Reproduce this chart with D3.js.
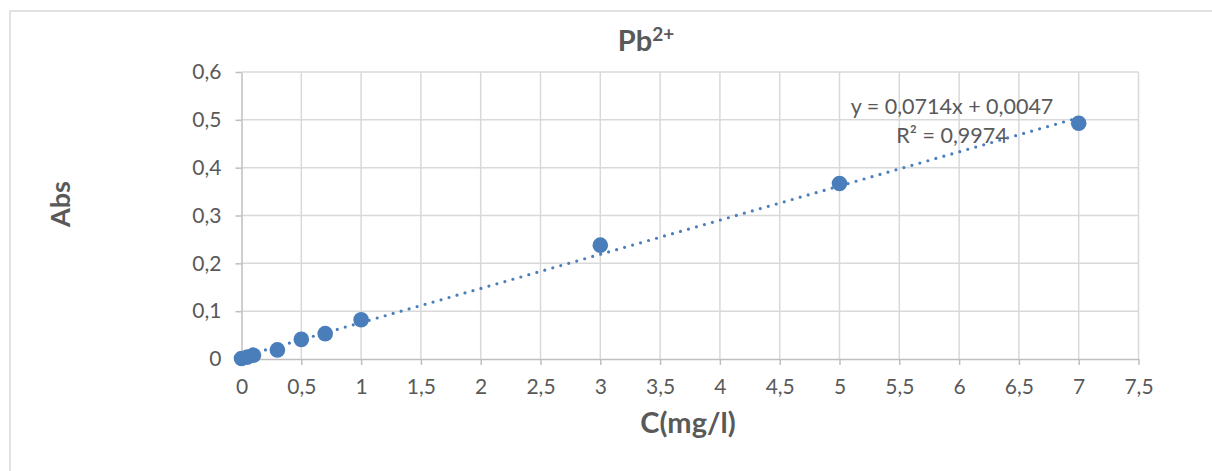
<!DOCTYPE html>
<html>
<head>
<meta charset="utf-8">
<script src="https://cdn.jsdelivr.net/npm/d3@7"></script>
<style>
  html, body { margin: 0; padding: 0; background: #fff; }
  svg { display: block; }
  text { font-family: Lato, "Open Sans", sans-serif; fill: #595959; }
</style>
</head>
<body>
<svg id="chart" width="1212" height="471"></svg>
<script>
// Pb2+ calibration: concentration (mg/l) vs absorbance
const concentration = [0, 0.05, 0.1, 0.3, 0.5, 0.7, 1, 3, 5, 7];
const absorbance    = [0.001, 0.004, 0.008, 0.019, 0.041, 0.053, 0.082, 0.238, 0.367, 0.493];

// Linear trendline coefficients
const slope = 0.0714;
const intercept = 0.0047;
const rSquared = "0,9974";

const xTicks = [0, 0.5, 1, 1.5, 2, 2.5, 3, 3.5, 4, 4.5, 5, 5.5, 6, 6.5, 7, 7.5];
const yTicks = [0, 0.1, 0.2, 0.3, 0.4, 0.5, 0.6];

const svg = d3.select("#chart");
const fmt = v => String(v).replace(".", ",");

const plot = { left: 241.5, right: 1138.5, top: 72, bottom: 359 };
const x = d3.scaleLinear().domain([0, 7.5]).range([plot.left, plot.right]);
const y = d3.scaleLinear().domain([0, 0.6]).range([plot.bottom, plot.top]);

// Chart frame
svg.append("rect")
  .attr("x", 10).attr("y", 11).attr("width", 1400).attr("height", 700)
  .attr("fill", "none").attr("stroke", "#d9d9d9").attr("stroke-width", 1.5);

// Gridlines
svg.append("g").selectAll("line.h").data(yTicks.slice(1)).join("line")
  .attr("x1", plot.left).attr("x2", plot.right)
  .attr("y1", d => y(d)).attr("y2", d => y(d))
  .attr("stroke", "#d9d9d9").attr("stroke-width", 1.5);
svg.append("g").selectAll("line.v").data(xTicks.slice(1)).join("line")
  .attr("x1", d => x(d)).attr("x2", d => x(d))
  .attr("y1", plot.top).attr("y2", plot.bottom)
  .attr("stroke", "#d9d9d9").attr("stroke-width", 1.5);

// Axes
const xAxis = svg.append("g").attr("transform", `translate(0,${plot.bottom})`)
  .call(d3.axisBottom(x).tickValues(xTicks).tickFormat(fmt).tickSizeInner(6).tickSizeOuter(0).tickPadding(14));
const yAxis = svg.append("g").attr("transform", `translate(${plot.left},0)`)
  .call(d3.axisLeft(y).tickValues(yTicks).tickFormat(fmt).tickSizeInner(6).tickSizeOuter(0).tickPadding(14));
[xAxis, yAxis].forEach(g => {
  g.select(".domain").attr("stroke", "#bfbfbf").attr("stroke-width", 1.5);
  g.selectAll(".tick line").attr("stroke", "#bfbfbf").attr("stroke-width", 1.5);
  g.selectAll(".tick text").attr("font-size", 21).attr("font-family", "Lato, 'Open Sans', sans-serif").attr("fill", "#595959");
});

// Trendline (dotted)
const line = d3.line().x(d => x(d)).y(d => y(slope * d + intercept));
svg.append("path")
  .datum([d3.min(concentration), d3.max(concentration)])
  .attr("d", line)
  .attr("fill", "none").attr("stroke", "#4a7ebb").attr("stroke-width", 3.2)
  .attr("stroke-linecap", "round").attr("stroke-dasharray", "0 8.3");

// Data points
svg.append("g").selectAll("circle").data(concentration).join("circle")
  .attr("cx", d => x(d)).attr("cy", (d, i) => y(absorbance[i]))
  .attr("r", 7.8).attr("fill", "#4a7ebb");

// Trendline label
const lbl = svg.append("text").attr("font-size", 21.5).attr("text-anchor", "middle");
lbl.append("tspan").attr("x", 952).attr("y", 114)
  .text(`y = ${fmt(slope)}x + ${fmt(intercept)}`);
lbl.append("tspan").attr("x", 952).attr("y", 143)
  .text(`R² = ${rSquared}`);

// Title
const title = svg.append("text").attr("x", 646).attr("y", 51)
  .attr("text-anchor", "middle").attr("font-size", 29).attr("font-weight", "bold");
title.append("tspan").text("Pb");
title.append("tspan").attr("font-size", 19).attr("dy", -10).text("2+");

// Axis titles
svg.append("text").attr("x", 688).attr("y", 433)
  .attr("text-anchor", "middle").attr("font-size", 29).attr("font-weight", "bold")
  .text("C(mg/l)");
svg.append("text").attr("transform", "translate(70,204) rotate(-90)")
  .attr("text-anchor", "middle").attr("font-size", 27).attr("font-weight", "bold")
  .text("Abs");
</script>
</body>
</html>
